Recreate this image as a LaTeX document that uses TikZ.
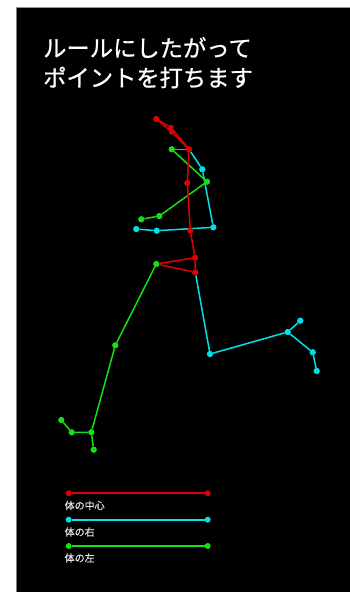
\documentclass[tikz,border=0pt]{standalone}
\usepackage{fontspec}
\newfontfamily\jp[FakeBold=0.8]{Noto Sans CJK JP}
\newfontfamily\jpl[FakeBold=0.4]{Noto Sans CJK JP}
\definecolor{cred}{RGB}{225,0,0}
\definecolor{ccyan}{RGB}{0,225,230}
\definecolor{cgreen}{RGB}{20,225,20}
\definecolor{topline}{RGB}{95,165,205}
\begin{document}
\begin{tikzpicture}[x=1pt,y=-1pt,
  dot/.style={circle,inner sep=0pt,minimum size=6pt},
  rdot/.style={dot,fill=cred},
  cdot/.style={dot,fill=ccyan},
  gdot/.style={dot,fill=cgreen},
  rline/.style={draw=cred,line width=1.5pt},
  cline/.style={draw=ccyan,line width=1.5pt},
  gline/.style={draw=cgreen,line width=1.5pt},
  lline/.style={line width=2pt},
  title/.style={anchor=west,inner sep=0pt,text=white,font=\jp\fontsize{23.3}{23.3}\selectfont},
  legtext/.style={anchor=west,inner sep=0pt,text=white!90!black,font=\jpl\fontsize{10}{10}\selectfont}]
\useasboundingbox (0,0) rectangle (350,592);
\fill[white] (0,0) rectangle (350,592);
\fill[black] (16,7) rectangle (350,592);
\draw[topline,line width=1.2pt] (16,7.5) -- (350,7.5);
\draw[gray,line width=0.8pt] (16.4,7) -- (16.4,592);
\node[title] (t1) at (43,47.5) {ルールにしたがって};
\node[title] (t2) at (43,77.5) {ポイントを打ちます};
% red points
\node[rdot] (r1) at (156.3,119) {};
\node[rdot,minimum size=5pt] (r2) at (171,127.5) {};
\node[rdot,minimum size=5pt] (r3) at (171.5,132) {};
\node[rdot] (r4) at (189,149.3) {};
\node[rdot] (r5) at (187.3,183) {};
\node[rdot] (r6) at (190.3,230.5) {};
\node[rdot] (r7) at (195,257.7) {};
\node[rdot] (r8) at (195.3,272.3) {};
% cyan points
\node[cdot] (c1) at (202.3,169.3) {};
\node[cdot] (c2) at (213.3,227.3) {};
\node[cdot] (c3) at (156.7,230.7) {};
\node[cdot] (c4) at (136.3,229) {};
\node[cdot] (c5) at (210,354) {};
\node[cdot] (c6) at (287.7,332) {};
\node[cdot] (c7) at (300.3,320.7) {};
\node[cdot] (c8) at (312.7,352.3) {};
\node[cdot] (c9) at (316.7,371) {};
% green points
\node[gdot] (g1) at (171.7,149.3) {};
\node[gdot] (g2) at (207,181.7) {};
\node[gdot] (g3) at (159.3,216) {};
\node[gdot] (g4) at (141.3,219.3) {};
\node[gdot] (g5) at (156.3,264) {};
\node[gdot] (g6) at (115.3,345.3) {};
\node[gdot] (g7) at (91.3,432.3) {};
\node[gdot] (g8) at (71.7,432.3) {};
\node[gdot] (g9) at (61.3,420) {};
\node[gdot] (g10) at (93.7,449.7) {};
% cyan lines
\path[cline] (r4) -- (c1) -- (c2) -- (c3) -- (c4);
\path[cline] (r8) -- (c5) -- (c6) -- (c7);
\path[cline] (c6) -- (c8) -- (c9);
% green lines
\path[gline] (g1) -- (r4);
\path[gline] (g1) -- (g2) -- (g3) -- (g4);
\path[gline] (g5) -- (g6) -- (g7) -- (g8) -- (g9);
\path[gline] (g7) -- (g10);
% red lines
\path[rline] (r1) -- (r2) -- (r4);
\path[rline] (r1) -- (r3) -- (r4);
\path[rline] (r4) -- (r5) -- (r6) -- (r7) -- (r8);
\path[rline] (r7) -- (g5) -- (r8);
% redraw dots on top
\foreach \n in {r1,r4,r5,r6,r7,r8}{\fill[cred] (\n) circle (3pt);}
\foreach \n in {r2,r3}{\fill[cred] (\n) circle (2.5pt);}
\foreach \n in {c1,c2,c3,c4,c5,c6,c7,c8,c9}{\fill[ccyan] (\n) circle (3pt);}
\foreach \n in {g1,g2,g3,g4,g5,g6,g7,g8,g9,g10}{\fill[cgreen] (\n) circle (3pt);}
% legend
\node[rdot] (la1) at (68.7,493.3) {};
\node[rdot] (la2) at (207.7,493.3) {};
\path[draw=cred,lline] (la1) -- (la2);
\node[legtext] (lt1) at (64.5,505.5) {体の中心};
\node[cdot] (lb1) at (68.7,519.7) {};
\node[cdot] (lb2) at (207.7,519.7) {};
\path[draw=ccyan,lline] (lb1) -- (lb2);
\node[legtext] (lt2) at (64.5,532) {体の右};
\node[gdot] (lc1) at (68.7,546) {};
\node[gdot] (lc2) at (207.7,546) {};
\path[draw=cgreen,lline] (lc1) -- (lc2);
\node[legtext] (lt3) at (64.5,558) {体の左};
\end{tikzpicture}
\end{document}
